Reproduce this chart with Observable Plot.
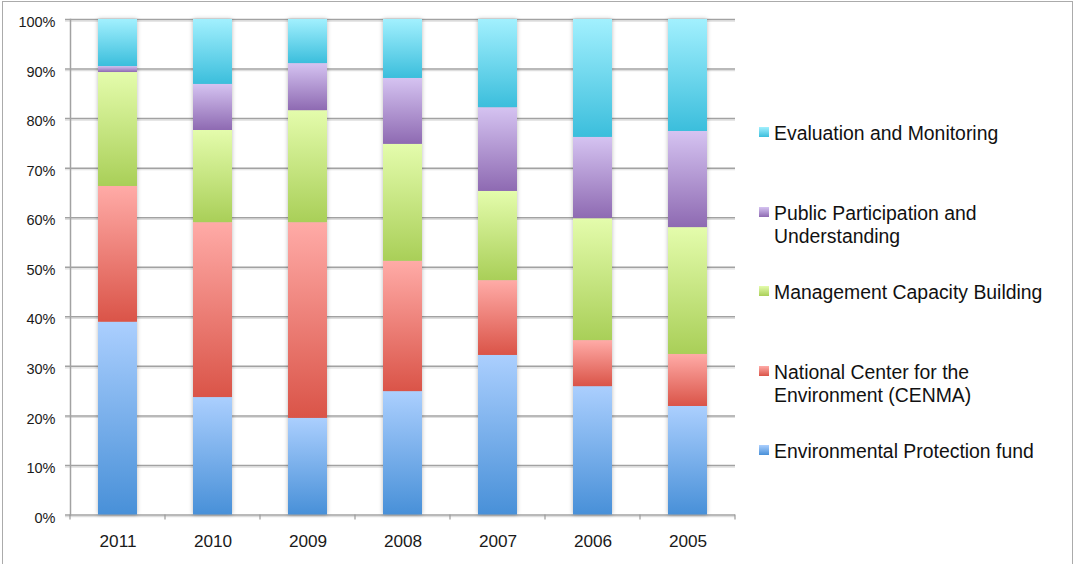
<!DOCTYPE html>
<html>
<head>
<meta charset="utf-8">
<script src="https://cdn.jsdelivr.net/npm/d3@7"></script>
<script src="https://cdn.jsdelivr.net/npm/@observablehq/plot@0.6"></script>
<style>
  html, body { margin: 0; padding: 0; background: #fff; }
  #wrap { position: relative; width: 1073px; height: 564px; overflow: hidden;
          font-family: "Liberation Sans", Arial, Helvetica, sans-serif; }
  #border { position: absolute; left: 2px; top: 1px; width: 1071px; height: 700px;
            border: 1px solid #ababab; box-sizing: border-box; pointer-events: none; }
  #chart { position: absolute; left: 0; top: 0; }
  .item { position: absolute; left: 759px; font-size: 19.4px; line-height: 23px; color: #111; }
  .item .sw { position: absolute; left: 0; top: 5px; width: 10px; height: 10px; }
  .item .lbl { position: absolute; left: 15px; top: 0; white-space: nowrap; }
</style>
</head>
<body>
<div id="wrap">
  <div id="chart"></div>
  <div id="legend"></div>
  <div id="border"></div>
</div>
<script>
// Share of funding by programme area, per year (percent of the yearly total)
const years = ["2011", "2010", "2009", "2008", "2007", "2006", "2005"];
const series = [
  "Environmental Protection fund",
  "National Center for the Environment (CENMA)",
  "Management Capacity Building",
  "Public Participation and Understanding",
  "Evaluation and Monitoring"
];
const protectionFund = [38.9, 23.7, 19.5, 24.9, 32.2, 25.9, 21.9];
const cenma          = [27.4, 35.3, 39.5, 26.3, 15.1,  9.3, 10.5];
const capacity       = [23.0, 18.6, 22.6, 23.6, 18.0, 24.6, 25.6];
const participation  = [ 1.2,  9.3,  9.5, 13.3, 16.9, 16.4, 19.4];
const monitoring     = [ 9.5, 13.1,  8.9, 11.9, 17.8, 23.8, 22.6];
const yTicks = [0, 10, 20, 30, 40, 50, 60, 70, 80, 90, 100];

// Legend layout: two-line labels where the text wraps
const legendLines = [
  ["Evaluation and Monitoring"],
  ["Public Participation and", "Understanding"],
  ["Management Capacity Building"],
  ["National Center for the", "Environment (CENMA)"],
  ["Environmental Protection fund"]
];
const legendSeries = [4, 3, 2, 1, 0];

// Light (top) and dark (bottom) gradient stops for each series
const gradients = [
  ["#abcffe", "#4890d8"],
  ["#ffaba7", "#da5448"],
  ["#e4fcac", "#a9cf58"],
  ["#d5c3f1", "#8e6ab2"],
  ["#a2f0fe", "#3bbedc"]
];

const columns = [protectionFund, cenma, capacity, participation, monitoring];
const data = [];
series.forEach((s, i) => years.forEach((y, j) => data.push({year: y, series: s, value: columns[i][j]})));

// Category boundary tick marks under the x axis
function bandTicks(index, scales, values, dimensions) {
  const x = scales.x;
  const bw = x.bandwidth();
  const step = x.step ? x.step() : bw / (1 - 0.59);
  const gap = step - bw;
  const edges = years.map(d => x(d) - gap / 2).concat([x(years[years.length - 1]) + bw + gap / 2]);
  const y0 = dimensions.height - dimensions.marginBottom;
  const g = d3.create("svg:g");
  g.selectAll("line").data(edges).join("line")
    .attr("x1", d => d).attr("x2", d => d)
    .attr("y1", y0).attr("y2", y0 + 5)
    .attr("stroke", "#9a9a9a").attr("stroke-width", 1.2);
  return g.node();
}

const chart = Plot.plot({
  width: 1073,
  height: 564,
  marginLeft: 70,
  marginRight: 338,
  marginTop: 19,
  marginBottom: 49.5,
  style: {fontFamily: "'Liberation Sans', Arial, Helvetica, sans-serif", color: "#1a1a1a", background: "transparent"},
  x: {domain: years, paddingInner: 0.59, paddingOuter: 0.295, axis: null},
  y: {domain: [0, 100], axis: null},
  color: {domain: series, range: series.map((_, i) => `url(#grad${i})`)},
  marks: [
    Plot.ruleY(yTicks, {stroke: "#dedede", strokeWidth: 1.2, dy: 1.6, insetLeft: -5}),
    Plot.ruleY(yTicks, {stroke: "#a2a2a2", strokeWidth: 1.5, insetLeft: -5}),
    Plot.frame({anchor: "left", stroke: "#a2a2a2", strokeWidth: 1.5}),
    Plot.barY(data, {x: "year", y: "value", fill: "series"}),
    bandTicks,
    Plot.axisY(yTicks, {
      tickSize: 0, tickPadding: 15, fontSize: 14.5, dy: 3,
      tickFormat: d => d + "%", label: null
    }),
    Plot.axisX({tickSize: 0, tickPadding: 19.5, fontSize: 17.2, label: null})
  ]
});

// Vertical gradients used as bar fills
const defs = d3.select(chart).insert("defs", ":first-child");
gradients.forEach(([top, bottom], i) => {
  const lg = defs.append("linearGradient").attr("id", `grad${i}`)
    .attr("x1", 0).attr("y1", 0).attr("x2", 0).attr("y2", 1);
  lg.append("stop").attr("offset", "0%").attr("stop-color", top);
  lg.append("stop").attr("offset", "100%").attr("stop-color", bottom);
});
d3.select(chart).selectAll("g[aria-label='bar']")
  .style("filter", "drop-shadow(0px 0px 2px rgba(0,0,0,0.28))");

document.getElementById("chart").appendChild(chart);

// Legend on the right
const legend = d3.select("#legend");
legendLines.forEach((lines, k) => {
  const [top, bottom] = gradients[legendSeries[k]];
  const item = legend.append("div").attr("class", "item").style("top", (122 + k * 79.6) + "px");
  item.append("div").attr("class", "sw").style("background", `linear-gradient(${top}, ${bottom})`);
  item.append("div").attr("class", "lbl").html(lines.join("<br>"));
});
</script>
</body>
</html>
